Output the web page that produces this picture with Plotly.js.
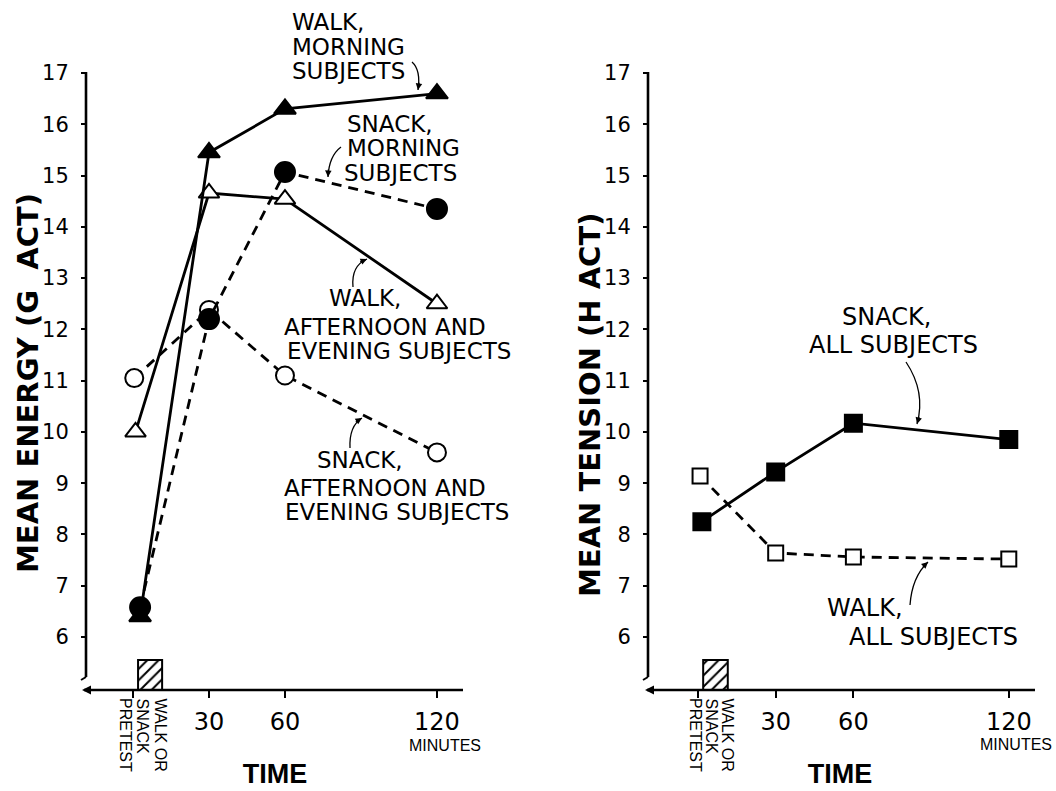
<!DOCTYPE html>
<html><head><meta charset="utf-8">
<script src="https://cdn.plot.ly/plotly-3.0.1.min.js"></script>
<style>html,body{margin:0;padding:0;background:#fff}</style>
</head><body>
<div id="chart" style="width:1056px;height:791px"></div>
<script>
// ---------- data ----------
const timePoints = [0, 30, 60, 120];
const timeTickText = ['', '30', '60', '120'];
const scoreTicks = [6, 7, 8, 9, 10, 11, 12, 13, 14, 15, 16, 17];

// Left panel: mean energy (G ACT)
const walkMorning   = [6.4, 15.45, 16.3, 16.6];
const snackMorning  = [6.58, 12.2, 15.07, 14.35];
const walkAftEve    = [10.0, 14.66, 14.54, 12.5];
const snackAftEve   = [11.05, 12.38, 11.1, 9.6];

// Right panel: mean tension (H ACT)
const snackAll = [8.25, 9.22, 10.17, 9.85];
const walkAll  = [9.14, 7.64, 7.56, 7.52];

// Treatment period (walk or snack), minutes
const treatStart = [2];
const treatEnd   = [11.5];
const treatTop   = [5.55];

// ---------- layout helpers ----------
const W = 1056, H = 791;
const fx = p => p / W;
const fy = p => 1 - p / H;
const Y_RANGE = [4.966, 17.254];
const X1_RANGE = [-20.92, 133.04];
const X2_RANGE = [-22.39, 132.05];
const FONT = 'DejaVu Sans, sans-serif';
const FONT_LS = 'Liberation Sans, Arial, sans-serif';

function series(y, xa, ya, symbol, filled, dash, size, xoff) {
  const x = timePoints.map((t, i) => i === 0 ? t + xoff : t);
  return {
    type: 'scatter', mode: 'lines+markers', x: x, y: y, xaxis: xa, yaxis: ya,
    line: {color: '#000', width: 2.8, dash: dash ? '10px,7px' : 'solid'},
    marker: {symbol: symbol, size: size, color: filled ? '#000' : '#fff',
             line: {color: '#000', width: 2}},
    showlegend: false, hoverinfo: 'x+y', cliponaxis: false
  };
}
function treatBar(xa, ya) {
  return {
    type: 'bar', x: treatStart.map((s, i) => (s + treatEnd[i]) / 2),
    width: treatStart.map((s, i) => treatEnd[i] - s),
    base: treatTop.map(() => Y_RANGE[0]),
    y: treatTop.map(t => t - Y_RANGE[0]),
    xaxis: xa, yaxis: ya, showlegend: false, hoverinfo: 'skip',
    marker: {color: '#fff', line: {color: '#000', width: 2},
             pattern: {shape: '/', fgcolor: '#000', bgcolor: '#fff', size: 8, solidity: 0.25}}
  };
}

const traces = [
  treatBar('x', 'y'),
  series(walkAftEve, 'x', 'y', 'triangle-up', false, false, 18, 1),
  series(snackAftEve, 'x', 'y', 'circle', false, true, 18, 0.5),
  series(snackMorning, 'x', 'y', 'circle', true, true, 20, 2.8),
  series(walkMorning, 'x', 'y', 'triangle-up', true, false, 19, 2.8),
  treatBar('x2', 'y2'),
  series(walkAll, 'x2', 'y2', 'square', false, true, 15, 0.8),
  series(snackAll, 'x2', 'y2', 'square', true, false, 17, 1.5)
];

function xAxis(domain, range, anchor, title) {
  return {
    domain: domain, range: range, anchor: anchor,
    tickmode: 'array', tickvals: timePoints, ticktext: timeTickText,
    ticks: 'outside', ticklen: 7, tickwidth: 2, tickcolor: '#000',
    showline: false, showgrid: false, zeroline: false,
    tickfont: {family: FONT, size: 24, color: '#000'}, ticklabelstandoff: 3,
    title: {text: title, font: {family: FONT_LS, size: 27, color: '#000', weight: 'bold'}, standoff: 29}
  };
}
function xOver(over, range, anchor) {
  return {overlaying: over, range: range, anchor: anchor,
    tickmode: 'array', tickvals: timePoints, ticks: 'inside', ticklen: 7, tickwidth: 2,
    tickcolor: '#000', showticklabels: false, showline: false, showgrid: false, zeroline: false};
}
function yAxis(pos) {
  return {
    domain: [fy(690), fy(60)], range: Y_RANGE, anchor: 'free', position: pos,
    tickmode: 'array', tickvals: scoreTicks,
    ticks: 'outside', ticklen: 5, tickwidth: 2, tickcolor: '#000',
    showline: false, showgrid: false, zeroline: false,
    tickfont: {family: FONT, size: 21, color: '#000'}, ticklabelstandoff: 8
  };
}
function yOver(over, pos) {
  return {overlaying: over, range: Y_RANGE, anchor: 'free', position: pos,
    tickmode: 'array', tickvals: scoreTicks, ticks: 'inside', ticklen: 5, tickwidth: 2,
    tickcolor: '#000', showticklabels: false, showline: false, showgrid: false, zeroline: false};
}

// ---------- axis lines, callout curves ----------
const shapes = [];
function pline(x0, y0, x1, y1, w) {
  shapes.push({type: 'line', xref: 'paper', yref: 'paper', x0: fx(x0), y0: fy(y0), x1: fx(x1), y1: fy(y1),
               line: {color: '#000', width: w || 2.6}});
}
const annotations = [];
function curve(x0, y0, cx, cy, x1, y1) {
  shapes.push({type: 'path', xref: 'paper', yref: 'paper',
    path: `M ${fx(x0)} ${fy(y0)} Q ${fx(cx)} ${fy(cy)} ${fx(x1)} ${fy(y1)}`,
    line: {color: '#000', width: 1.3}});
  const dx = cx - x1, dy = cy - y1, L = Math.hypot(dx, dy);
  annotations.push({xref: 'paper', yref: 'paper', x: fx(x1), y: fy(y1), text: '',
    showarrow: true, arrowhead: 2, arrowsize: 1, arrowwidth: 1.3, arrowcolor: '#000',
    ax: dx / L * 9, ay: dy / L * 9, standoff: 0});
}
function label(text, px, py, size, anchor) {
  annotations.push({xref: 'paper', yref: 'paper', x: fx(px), y: fy(py), text: text,
    showarrow: false, xanchor: anchor || 'left', yanchor: 'middle',
    font: {family: FONT, size: size, color: '#000'}});
}
function vlabel(text, px, py) {
  annotations.push({xref: 'paper', yref: 'paper', x: fx(px), y: fy(py), text: text,
    showarrow: false, xanchor: 'center', yanchor: 'top', textangle: 90,
    font: {family: FONT_LS, size: 16, color: '#000'}});
}
function ytitle(text, px, py) {
  annotations.push({xref: 'paper', yref: 'paper', x: fx(px), y: fy(py), text: text,
    showarrow: false, xanchor: 'center', yanchor: 'middle', textangle: -90,
    font: {family: FONT, size: 29, color: '#000', weight: 'bold'}});
}

// left panel axes
pline(86, 72, 86, 677);
pline(86, 677, 81, 680, 2);
pline(84, 690, 463, 690);
annotations.push({xref: 'paper', yref: 'paper', x: fx(82), y: fy(690), text: '', showarrow: true,
  arrowhead: 2, arrowsize: 0.9, arrowwidth: 2, arrowcolor: '#000', ax: 12, ay: 0, standoff: 0});
// right panel axes
pline(648, 72, 648, 677);
pline(648, 677, 643, 680, 2);
pline(647, 690, 1035, 690);
annotations.push({xref: 'paper', yref: 'paper', x: fx(645), y: fy(690), text: '', showarrow: true,
  arrowhead: 2, arrowsize: 0.9, arrowwidth: 2, arrowcolor: '#000', ax: 12, ay: 0, standoff: 0});

// axis titles (vertical)
ytitle('MEAN ENERGY (G\u00a0 ACT)', 28, 383);
ytitle('MEAN TENSION (H ACT)', 590, 405);

// callouts, left
label('WALK,', 290, 22, 23); label('MORNING', 290, 46.5, 23); label('SUBJECTS', 290, 71, 23);
curve(412, 62, 421, 70, 418, 90);
label('SNACK,', 345, 124, 23); label('MORNING', 345, 148.5, 23); label('SUBJECTS', 342, 173, 23);
curve(341, 147, 329, 156, 328, 177);
label('WALK,', 327, 298, 23); label('AFTERNOON AND', 282, 327, 23); label('EVENING SUBJECTS', 285, 351, 23);
curve(353, 287, 351, 266, 367, 259);
label('SNACK,', 315, 460, 23); label('AFTERNOON AND', 282, 488, 23); label('EVENING SUBJECTS', 283, 512, 23);
curve(350, 448, 349, 426, 362, 418);
// callouts, right
label('SNACK,', 840, 317, 24); label('ALL SUBJECTS', 807, 345, 24);
curve(906, 362, 926, 392, 917, 424);
label('WALK,', 825, 608, 24); label('ALL SUBJECTS', 847, 637, 24);
curve(910, 605, 912, 577, 928, 562);

// rotated time labels
vlabel('PRETEST', 126, 696); vlabel('SNACK', 142, 696); vlabel('WALK OR', 160, 696);
vlabel('PRETEST', 696, 696); vlabel('SNACK', 711, 696); vlabel('WALK OR', 727, 696);
annotations.push({xref: 'paper', yref: 'paper', x: fx(445), y: fy(745), text: 'MINUTES', showarrow: false,
  xanchor: 'center', yanchor: 'middle', font: {family: FONT_LS, size: 16, color: '#000'}});
annotations.push({xref: 'paper', yref: 'paper', x: fx(1016), y: fy(744), text: 'MINUTES', showarrow: false,
  xanchor: 'center', yanchor: 'middle', font: {family: FONT_LS, size: 16, color: '#000'}});

const layout = {
  width: W, height: H, margin: {l: 0, r: 0, t: 0, b: 0},
  paper_bgcolor: '#fff', plot_bgcolor: 'rgba(0,0,0,0)', showlegend: false,
  xaxis: xAxis([fx(80), fx(470)], X1_RANGE, 'y', 'TIME'),
  yaxis: yAxis(fx(86)),
  xaxis2: xAxis([fx(640), fx(1040)], X2_RANGE, 'y2', 'TIME'),
  yaxis2: yAxis(fx(648)),
  xaxis3: xOver('x', X1_RANGE, 'y'),
  yaxis3: yOver('y', fx(86)),
  xaxis4: xOver('x2', X2_RANGE, 'y2'),
  yaxis4: yOver('y2', fx(648)),
  shapes: shapes, annotations: annotations
};

Plotly.newPlot('chart', traces, layout, {displayModeBar: false, staticPlot: true});
</script>
</body></html>
